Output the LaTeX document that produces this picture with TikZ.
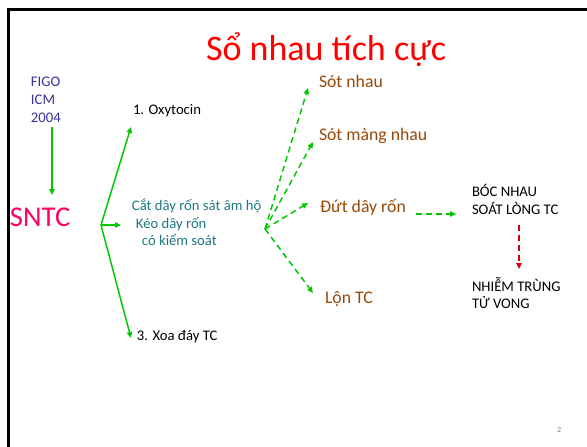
\documentclass[tikz,border=0pt]{standalone}
\usepackage{fontspec}
\setmainfont{Carlito}
\usetikzlibrary{arrows.meta}
\definecolor{gr}{RGB}{0,200,0}
\definecolor{ttl}{RGB}{255,0,0}
\definecolor{figo}{RGB}{51,51,153}
\definecolor{sntc}{RGB}{255,0,102}
\definecolor{teal}{RGB}{33,120,130}
\definecolor{brn}{RGB}{152,72,7}
\definecolor{rd}{RGB}{220,0,0}
\begin{document}
\begin{tikzpicture}[x=0.75pt,y=-0.75pt,
  txt/.style={anchor=base west, inner sep=0pt, outer sep=0pt},
  small/.style={txt, font=\fontsize{11}{13}\selectfont},
  mid/.style={txt, font=\fontsize{13.3}{15}\selectfont, text=brn},
  garr/.style={draw=gr, line width=1.1pt, -{Triangle[length=4.5pt,width=4pt]}},
  gdash/.style={garr, dash pattern=on 4.5pt off 3pt},
  rdash/.style={draw=rd, line width=1.1pt, dash pattern=on 4.5pt off 3pt, -{Triangle[length=4.5pt,width=4pt]}}]
\useasboundingbox (0,0) rectangle (587,447);
\fill[white] (0,0) rectangle (587,447);
% frame
\draw[line width=2.2pt] (587,9.5) -- (8.5,9.5) -- (8.5,447);
% title
\node[txt, font=\fontsize{27}{32}\selectfont, text=ttl] (title) at (206,60) {Sổ nhau tích cực};
% FIGO
\node[small, text=figo] (figo1) at (31,86) {FIGO};
\node[small, text=figo] (figo2) at (31,104) {ICM};
\node[small, text=figo] (figo3) at (31,122) {2004};
\node[txt, font=\fontsize{21.5}{25}\selectfont, text=sntc] (sntc) at (10,226) {SNTC};
\coordinate (fa) at (52,127);
\coordinate (fb) at (52,195);
\draw[garr] (fa) -- (fb);
% left fan
\coordinate (j1) at (101,225);
\coordinate (t1) at (131,127);
\coordinate (t2) at (121,225);
\coordinate (t3) at (131,338);
\draw[garr] (j1) -- (t1);
\draw[garr] (j1) -- (t2);
\draw[garr] (j1) -- (t3);
\node[small] (oxy) at (133,114) {1. Oxytocin};
\node[small] (xoa) at (137,340) {3. Xoa đáy TC};
\node[small, text=teal] (c1) at (132,210) {Cắt dây rốn sát âm hộ};
\node[small, text=teal] (c2) at (136,228) {Kéo dây rốn};
\node[small, text=teal] (c3) at (142,245) {có kiểm soát};
% right fan
\coordinate (j2) at (265,229);
\coordinate (r1) at (308,88);
\coordinate (r2) at (313,142);
\coordinate (r3) at (308,203);
\coordinate (r4) at (313,293);
\draw[gdash] (j2) -- (r1);
\draw[gdash] (j2) -- (r2);
\draw[gdash] (j2) -- (r3);
\draw[gdash] (j2) -- (r4);
\node[mid] (s1) at (319,87) {Sót nhau};
\node[mid] (s2) at (319,140) {Sót màng nhau};
\node[mid] (s3) at (320,212) {Đứt dây rốn};
\node[mid] (s4) at (325,303) {Lộn TC};
% right column
\coordinate (d1) at (416,214);
\coordinate (d2) at (456,214);
\draw[gdash] (d1) -- (d2);
\node[small] (b1) at (472,196) {BÓC NHAU};
\node[small] (b2) at (472,214) {SOÁT LÒNG TC};
\coordinate (e1) at (519,225);
\coordinate (e2) at (519,269);
\draw[rdash] (e1) -- (e2);
\node[small] (n1) at (472,291) {NHIỄM TRÙNG};
\node[small] (n2) at (472,308) {TỬ VONG};
\node[txt, font=\fontsize{6}{7}\selectfont, text=gray] (pg) at (557,432) {2};
\end{tikzpicture}
\end{document}
